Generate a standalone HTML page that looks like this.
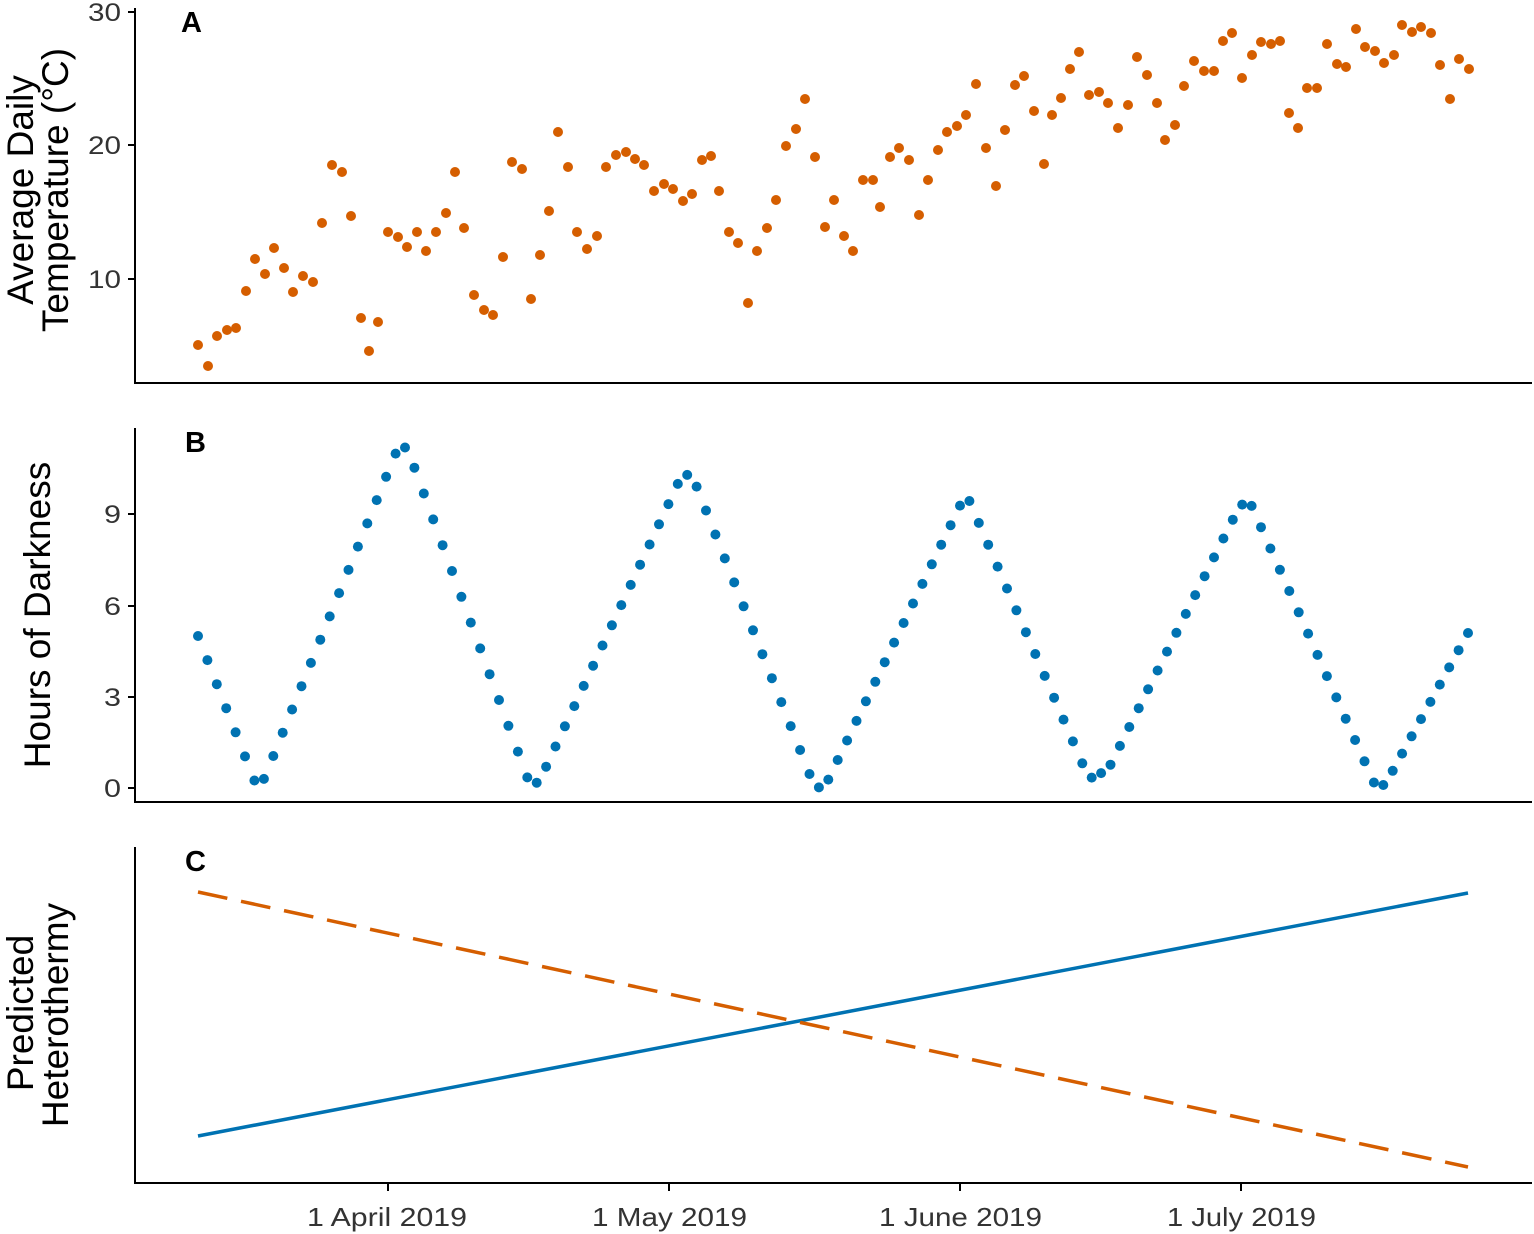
<!DOCTYPE html>
<html><head><meta charset="utf-8"><style>
html,body{margin:0;padding:0;background:#fff;}
svg{display:block;font-family:"Liberation Sans",Arial,sans-serif;}
</style></head><body>
<svg id="s" width="1534" height="1234" xmlns="http://www.w3.org/2000/svg">
<g stroke="#000" stroke-width="2" fill="none">
<path d="M135,8 V383 H1532"/>
<path d="M135,428 V802 H1532"/>
<path d="M135,847 V1183 H1532"/>
<path d="M128,12 H135 M128,145 H135 M128,279 H135"/>
<path d="M128,514 H135 M128,606 H135 M128,697 H135 M128,788 H135"/>
<path d="M388,1183 V1191 M669,1183 V1191 M960,1183 V1191 M1241,1183 V1191"/>
</g>
<g font-size="25" fill="#333" text-anchor="end">
<text x="121" y="21" textLength="33" lengthAdjust="spacingAndGlyphs">30</text>
<text x="121" y="154" textLength="33" lengthAdjust="spacingAndGlyphs">20</text>
<text x="121" y="288" textLength="33" lengthAdjust="spacingAndGlyphs">10</text>
<text x="121" y="523" textLength="17" lengthAdjust="spacingAndGlyphs">9</text>
<text x="121" y="615" textLength="17" lengthAdjust="spacingAndGlyphs">6</text>
<text x="121" y="706" textLength="17" lengthAdjust="spacingAndGlyphs">3</text>
<text x="121" y="797" textLength="17" lengthAdjust="spacingAndGlyphs">0</text>
</g>
<g font-size="26" fill="#333">
<text x="307" y="1226" textLength="160" lengthAdjust="spacingAndGlyphs">1 April 2019</text>
<text x="592" y="1226" textLength="155" lengthAdjust="spacingAndGlyphs">1 May 2019</text>
<text x="879" y="1226" textLength="163" lengthAdjust="spacingAndGlyphs">1 June 2019</text>
<text x="1167" y="1226" textLength="149" lengthAdjust="spacingAndGlyphs">1 July 2019</text>
</g>
<g font-size="29" font-weight="bold" fill="#000">
<text x="181" y="32">A</text><text x="185" y="452">B</text><text x="185" y="871">C</text>
</g>
<g font-size="37" fill="#000" text-anchor="middle">
<text transform="translate(33,190) rotate(-90)">Average Daily</text>
<text transform="translate(68,190) rotate(-90)">Temperature (°C)</text>
<text transform="translate(50,615) rotate(-90)">Hours of Darkness</text>
<text transform="translate(33,1013) rotate(-90)">Predicted</text>
<text transform="translate(68,1015) rotate(-90)">Heterothermy</text>
</g>
<line x1="198" y1="1136" x2="1468" y2="893" stroke="#0072b2" stroke-width="3.5"/>
<line x1="198" y1="892" x2="1468" y2="1167" stroke="#d55e00" stroke-width="3.5" stroke-dasharray="30,14"/>
<g id="a" fill="#d55e00"></g>
<g id="b" fill="#0072b2"></g>
</svg>
<script>
var A=[[198,345],[208,366],[217,336],[227,330],[236,328],[246,291],[255,259],[265,274],[274,248],[284,268],[293,292],[303,276],[313,282],[322,223],[332,165],[342,172],[351,216],[361,318],[369,351],[378,322],[388,232],[398,237],[407,247],[417,232],[426,251],[436,232],[446,213],[455,172],[464,228],[474,295],[484,310],[493,315],[503,257],[512,162],[522,169],[531,299],[540,255],[549,211],[558,132],[568,167],[577,232],[587,249],[597,236],[606,167],[616,155],[626,152],[635,159],[644,165],[654,191],[664,184],[673,189],[683,201],[692,194],[702,160],[711,156],[719,191],[729,232],[738,243],[748,303],[757,251],[767,228],[776,200],[786,146],[796,129],[805,99],[815,157],[825,227],[834,200],[844,236],[853,251],[863,180],[873,180],[880,207],[890,157],[899,148],[909,160],[919,215],[928,180],[938,150],[947,132],[957,126],[966,115],[976,84],[986,148],[996,186],[1005,130],[1015,85],[1024,76],[1034,111],[1044,164],[1052,115],[1061,98],[1070,69],[1079,52],[1089,95],[1099,92],[1108,103],[1118,128],[1128,105],[1137,57],[1147,75],[1157,103],[1165,140],[1175,125],[1184,86],[1194,61],[1204,71],[1214,71],[1223,41],[1232,33],[1242,78],[1252,55],[1261,42],[1271,44],[1280,41],[1289,113],[1298,128],[1307,88],[1317,88],[1327,44],[1337,64],[1346,67],[1356,29],[1365,47],[1375,51],[1384,63],[1394,55],[1402,25],[1412,32],[1421,27],[1431,33],[1440,65],[1450,99],[1459,59],[1469,69]];
var ns="http://www.w3.org/2000/svg",ga=document.getElementById('a'),gb=document.getElementById('b');
A.forEach(function(p){var c=document.createElementNS(ns,'circle');c.setAttribute('cx',p[0]);c.setAttribute('cy',p[1]);c.setAttribute('r',5);ga.appendChild(c);});
var K=[[198,5.0],[255,0.2],[264,0.3],[398,11.2],[407,11.2],[530,0.1],[539,0.2],[682,10.3],[692,10.3],[815,0.0],[825,0.05],[966,9.7],[1089,0.3],[1108,0.6],[1240,9.3],[1250,9.4],[1375,0.1],[1385,0.1],[1468,5.1]];
function f(x){for(var i=0;i<K.length-1;i++){if(x<=K[i+1][0]){var t=(x-K[i][0])/(K[i+1][0]-K[i][0]);return K[i][1]+t*(K[i+1][1]-K[i][1]);}}return K[K.length-1][1];}
for(var i=0;i<136;i++){var x=198+i*(1270/135);var c=document.createElementNS(ns,'circle');c.setAttribute('cx',x.toFixed(1));c.setAttribute('cy',(788-f(x)*30.4).toFixed(1));c.setAttribute('r',5);gb.appendChild(c);}
</script>
</body></html>
